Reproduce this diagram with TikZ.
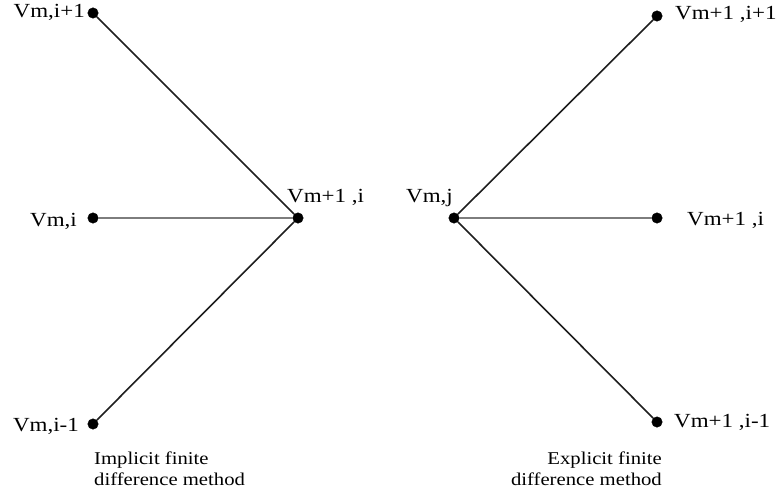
\documentclass[tikz,border=0pt]{standalone}
\usepackage{fontspec}
\setmainfont{Liberation Serif}[FakeStretch=1.15]
\usepackage{tikz}
\definecolor{linedark}{RGB}{30,30,30}
\definecolor{linegray}{RGB}{125,125,125}

\begin{document}
\begin{tikzpicture}[x=1pt,y=-1pt,inner sep=0pt,minimum size=10.5pt,
  dot/.style={circle,draw=black,fill=black},
  lbl/.style={font=\fontsize{20}{22}\selectfont},
  methodlbl/.style={font=\fontsize{18}{20.5}\selectfont},
  diag/.style={draw=linedark,line width=1.6pt},
  horiz/.style={draw=linegray,line width=2.2pt}]
\useasboundingbox (0,0) rectangle (778,495);
%Node Coordinates
\node at (93,13) [dot] (Left1) {};
\node at (93,218) [dot] (Left2) {};
\node at (93,424) [dot] (Left3) {};
\node at (298,218) [dot] (LeftC) {};
\node at (454,218) [dot] (RightC) {};
\node at (657,16) [dot] (Right1) {};
\node at (657,218) [dot] (Right2) {};
\node at (657,422) [dot] (Right3) {};
%Node Labels
\node [lbl,anchor=base east] at (85,18) {Vm,i+1};
\node [lbl,anchor=base east] at (77,226) {Vm,i};
\node [lbl,anchor=base east] at (79,431) {Vm,i-1};
\node [lbl,anchor=base west] at (287,202) {Vm+1 ,i};
\node [lbl,anchor=base west] at (406,202) {Vm,j};
\node [lbl,anchor=base west] at (675,20) {Vm+1 ,i+1};
\node [lbl,anchor=base west] at (687,225) {Vm+1 ,i};
\node [lbl,anchor=base west] at (674,427) {Vm+1 ,i-1};
%Connections
\draw [diag] (Left1) -- (LeftC);
\draw [horiz] (Left2) -- (LeftC);
\draw [diag] (Left3) -- (LeftC);
\draw [diag] (RightC) -- (Right1);
\draw [horiz] (RightC) -- (Right2);
\draw [diag] (RightC) -- (Right3);
% Method Labels
\node [methodlbl,anchor=north west,align=left] at (94,452) {Implicit finite\\difference method};
\node [methodlbl,anchor=north east,align=right] at (662,452) {Explicit finite\\difference method};

\end{tikzpicture}
\end{document}
